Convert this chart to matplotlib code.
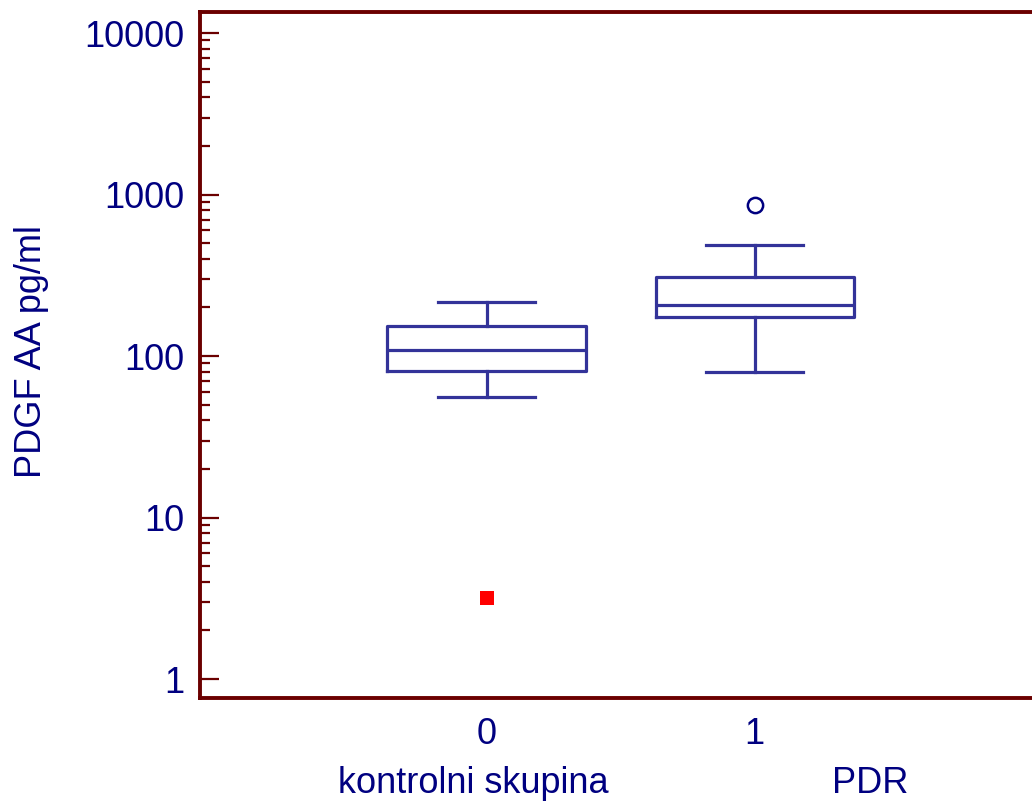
import matplotlib
matplotlib.use('Agg')
import matplotlib.pyplot as plt
from matplotlib.ticker import FixedLocator, NullFormatter

plt.rcParams['font.family'] = ['Liberation Sans', 'DejaVu Sans']

# values (pg/ml)
groups = ['0', '1']
group_names = ['kontrolni skupina', 'PDR']
whisker_low = [55.7, 79.6]
q1 = [80.7, 174]
median = [109, 207]
q3 = [153, 308]
whisker_high = [216, 486]
outliers = [[], [861]]
far_outliers = [[3.2], []]

navy = '#000080'
boxcol = '#333399'
spinecol = '#6b0000'
fs = 26

fig = plt.figure(figsize=(10.32, 8.07), dpi=100)
ax = fig.add_axes([0.1935, 0.135, 0.8065, 0.85])

stats = []
for i in range(len(groups)):
    stats.append(dict(whislo=whisker_low[i], q1=q1[i], med=median[i],
                      q3=q3[i], whishi=whisker_high[i], fliers=outliers[i]))

line = dict(color=boxcol, linewidth=2.3)
ax.bxp(stats, positions=range(len(groups)), widths=0.74, capwidths=0.36,
       boxprops=line, whiskerprops=line, capprops=line, medianprops=line,
       flierprops=dict(marker='o', markerfacecolor='none',
                       markeredgecolor=navy, markersize=11, markeredgewidth=1.8))

# far-out values as red squares
for i, vals in enumerate(far_outliers):
    if vals:
        ax.plot([i] * len(vals), vals, 's', color='red', markersize=10,
                markeredgewidth=0)

ax.set_yscale('log')
ax.set_ylim(0.763, 13490)
ax.set_xlim(-1.07, 2.034)

ax.set_yticks([1, 10, 100, 1000, 10000])
ax.set_yticklabels(['1', '10', '100', '1000', '10000'])
minor = [m * 10 ** k for k in range(4) for m in range(2, 10)]
ax.yaxis.set_minor_locator(FixedLocator(minor))
ax.yaxis.set_minor_formatter(NullFormatter())
ax.tick_params(axis='y', which='major', direction='in', length=14, width=1.6,
               color=spinecol, labelcolor=navy, labelsize=fs, pad=11)
ax.tick_params(axis='y', which='minor', direction='in', length=7.5, width=1.6,
               color=spinecol)

ax.set_xticks(range(len(groups)))
ax.set_xticklabels(groups)
ax.tick_params(axis='x', length=0, labelcolor=navy, labelsize=fs, pad=14)

# group names under the tick labels
name_x = [-0.049, 1.43]
for x, name in zip(name_x, group_names):
    ax.text(x, -0.124, name, transform=ax.get_xaxis_transform(),
            ha='center', va='center', color=navy, fontsize=fs)

ax.set_ylabel('PDGF AA pg/ml', color=navy, fontsize=fs)
ax.yaxis.set_label_coords(-0.181, 0.505)

for s in ['left', 'top', 'bottom']:
    ax.spines[s].set_color(spinecol)
    ax.spines[s].set_linewidth(2.8)
ax.spines['right'].set_visible(False)

fig.savefig('out.png', dpi=100, facecolor='white')
